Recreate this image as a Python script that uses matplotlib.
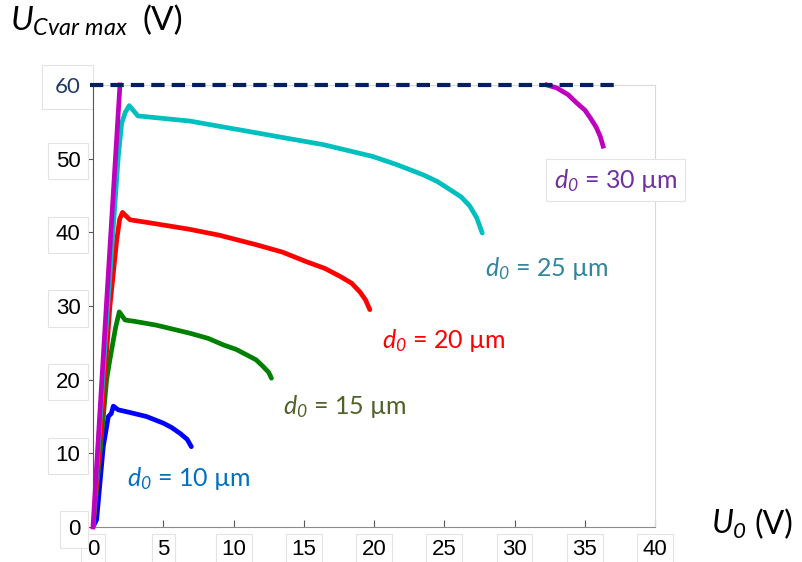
import numpy as np
import matplotlib
matplotlib.use("Agg")
import matplotlib.pyplot as plt

plt.rcParams['mathtext.fontset'] = 'custom'
plt.rcParams['mathtext.it'] = 'Lato:italic'
plt.rcParams['mathtext.rm'] = 'Lato:italic'
plt.rcParams['mathtext.default'] = 'it'

# d0 = 10 um
u0_10 = [0, 0.26, 0.73, 1.09, 1.3, 1.45, 1.8, 2.5, 3.8, 5.0, 5.6, 6.2, 6.7, 7.0]
uc_10 = [0, 1.0, 10.9, 15.0, 15.4, 16.4, 15.9, 15.6, 15.0, 14.1, 13.5, 12.7, 11.9, 10.9]

# d0 = 15 um
u0_15 = [0, 0.5, 0.97, 1.2, 1.6, 1.87, 2.28, 3.0, 4.5, 6.9, 8.2, 9.3, 10.2, 10.9, 11.6, 12.1, 12.5, 12.7]
uc_15 = [0, 10, 20, 22.7, 27.0, 29.2, 28.1, 27.9, 27.4, 26.3, 25.6, 24.7, 24.1, 23.4, 22.7, 21.8, 21.0, 20.2]

# d0 = 20 um
u0_20 = [0, 0.6, 1.2, 1.69, 1.9, 2.1, 2.63, 4.0, 6.9, 9.0, 11.65, 13.5, 15.2, 16.5, 17.6, 18.4, 19.0, 19.4, 19.7]
uc_20 = [0, 14, 29.9, 39.0, 41.8, 42.7, 41.7, 41.3, 40.4, 39.6, 38.3, 37.3, 36.0, 35.1, 34.0, 33.1, 31.9, 30.8, 29.5]

# d0 = 25 um
u0_25 = [0, 0.9, 1.8, 2.04, 2.3, 2.58, 3.2, 6.9, 9.27, 11.65, 14.0, 16.4, 19.9, 21.6, 23.5, 24.5, 25.4, 26.2, 26.8, 27.3, 27.7]
uc_25 = [0, 26, 50.3, 54.8, 56.3, 57.2, 55.8, 55.1, 54.3, 53.5, 52.7, 51.9, 50.3, 49.2, 47.8, 46.9, 45.8, 44.8, 43.6, 42.0, 39.9]

# d0 = 30 um (two visible parts, middle is above 60 V)
u0_30a = [0, 0.95, 1.92]
uc_30a = [0, 30, 60]
u0_30b = [32.3, 33.0, 33.8, 34.4, 35.0, 35.4, 35.8, 36.1, 36.3]
uc_30b = [60, 59.6, 58.7, 57.6, 56.6, 55.5, 54.3, 53.0, 51.7]

limit_x = [-0.2, 37.3]
limit_y = [60, 60]

xticks = [0, 5, 10, 15, 20, 25, 30, 35, 40]
yticks = [0, 10, 20, 30, 40, 50, 60]

fig = plt.figure(figsize=(8.03, 5.62), dpi=100)
ax = fig.add_axes([0.1158, 0.0623, 0.7, 0.7865])

lw = 3.4
ax.plot(u0_10, uc_10, color="#0000FF", lw=lw, solid_capstyle="round")
ax.plot(u0_15, uc_15, color="#008000", lw=lw, solid_capstyle="round")
ax.plot(u0_20, uc_20, color="#FF0000", lw=lw, solid_capstyle="round")
ax.plot(u0_25, uc_25, color="#00BFBF", lw=lw, solid_capstyle="round")
ax.plot(u0_30a, uc_30a, color="#BF00BF", lw=lw, clip_on=False, zorder=3)
ax.plot(u0_30b, uc_30b, color="#BF00BF", lw=lw, clip_on=False, zorder=3)
ax.plot(limit_x, limit_y, color="#002060", lw=3.0, dashes=(3.2, 1.7),
        clip_on=False, zorder=4)

ax.set_xlim(0, 40)
ax.set_ylim(0, 60)

ax.spines['left'].set_color("#595959")
ax.spines['bottom'].set_color("#8c8c8c")
ax.spines['top'].set_color("#d9d9d9")
ax.spines['right'].set_color("#d9d9d9")

ax.set_xticks(xticks)
ax.set_yticks(yticks)
ax.tick_params(axis="x", direction="in", length=5, color="#595959", pad=9,
               labelsize=16, labelfontfamily="Liberation Sans")
ax.tick_params(axis="y", direction="out", length=5, color="#595959", pad=4,
               labelsize=16, labelfontfamily="Liberation Sans")
ax.set_xticklabels([str(v) for v in xticks])
ax.set_yticklabels([str(v) for v in yticks])
for lab in ax.get_xticklabels():
    lab.set_bbox(dict(boxstyle="square,pad=0.25", fc="white", ec="#e3e3e3", lw=0.8))
for lab in ax.get_yticklabels():
    lab.set_bbox(dict(boxstyle="square,pad=0.35", fc="white", ec="#e3e3e3", lw=0.8))
ylabs = ax.get_yticklabels()
ylabs[-1].set_color("#1F3864")
ylabs[-1].set_family("Lato")
ylabs[-1].set_bbox(dict(boxstyle="square,pad=0.55", fc="white", ec="#e3e3e3", lw=0.8))

fig.text(0.012, 0.962, r"$U_{Cvar\ max}$", fontsize=24, family="Lato", va="center", ha="left")
fig.text(0.178, 0.962, "(V)", fontsize=24, family="Lato", va="center", ha="left")
fig.text(0.886, 0.066, r"$U_{0}$", fontsize=23, family="Lato", va="center", ha="left")
fig.text(0.94, 0.066, "(V)", fontsize=23, family="Lato", va="center", ha="left")

anns = [
    (2.45, 6.6, "10", "#0070C0", None),
    (13.5, 16.4, "15", "#4F6228", None),
    (20.6, 25.3, "20", "#FF0000", None),
    (27.9, 35.1, "25", "#31859C", None),
    (32.8, 47.1, "30", "#7030A0", dict(boxstyle="square,pad=0.3", fc="white", ec="#e3e3e3", lw=0.8)),
]
for x, y, d, c, bb in anns:
    ax.text(x, y, r"$d_{0}$" + " = " + d + " µm", color=c, fontsize=18,
            family="Lato", va="center", ha="left", bbox=bb, clip_on=False)

fig.savefig("out.png", dpi=100)
